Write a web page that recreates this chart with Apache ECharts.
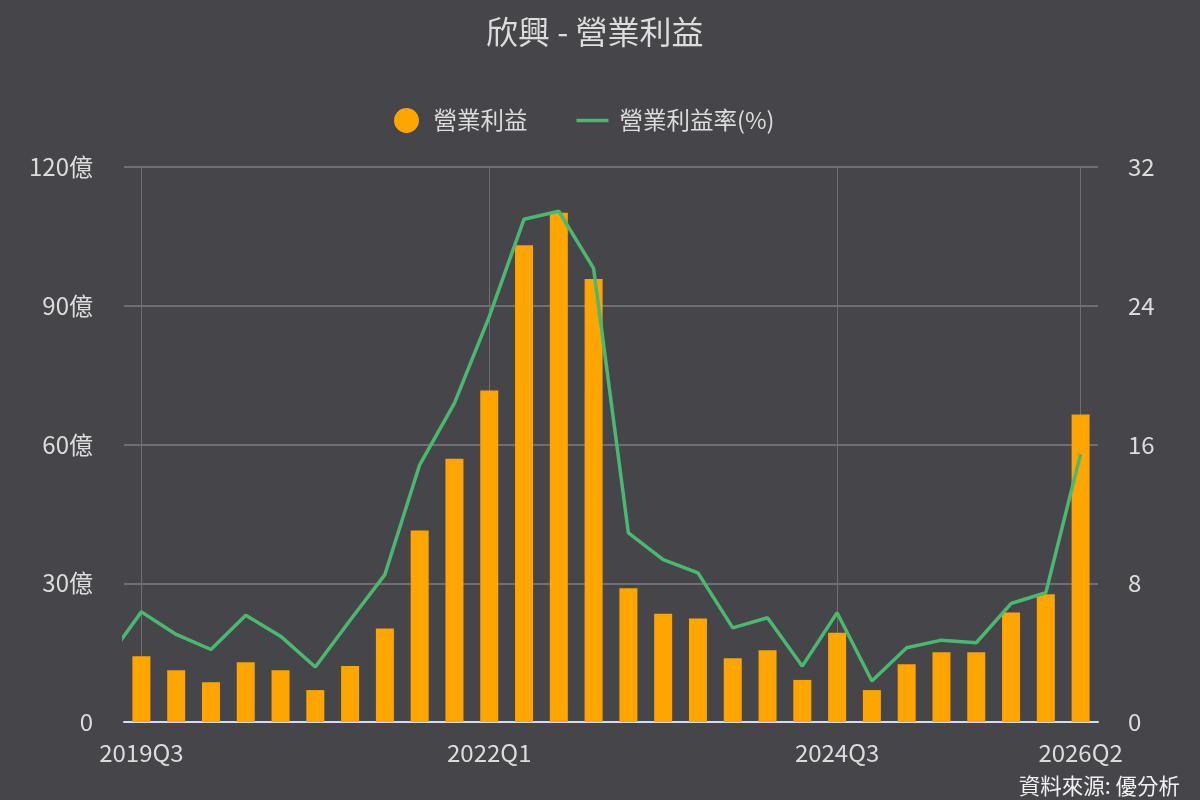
<!DOCTYPE html>
<html>
<head>
<meta charset="utf-8">
<title>欣興 - 營業利益</title>
<script src="https://cdn.jsdelivr.net/npm/echarts@6/dist/echarts.min.js"></script>
<style>
  html, body { margin: 0; padding: 0; background: #464549; }
  #main { width: 1200px; height: 800px; }
</style>
</head>
<body>
<div id="main"></div>
<script>
// 季度 (2019Q2 只用來讓折線從左邊界接進來)
const quarters = [
  '2019Q2', '2019Q3', '2019Q4',
  '2020Q1', '2020Q2', '2020Q3', '2020Q4',
  '2021Q1', '2021Q2', '2021Q3', '2021Q4',
  '2022Q1', '2022Q2', '2022Q3', '2022Q4',
  '2023Q1', '2023Q2', '2023Q3', '2023Q4',
  '2024Q1', '2024Q2', '2024Q3', '2024Q4',
  '2025Q1', '2025Q2', '2025Q3', '2025Q4',
  '2026Q1', '2026Q2'
]
// 營業利益 (億)
const opIncome = [
  null, 14.2, 11.2, 8.6,
  12.9, 11.2, 6.9, 12.1,
  20.2, 41.4, 56.9, 71.7,
  103.1, 110.1, 95.8, 28.9,
  23.4, 22.4, 13.8, 15.5,
  9.1, 19.3, 6.9, 12.5,
  15.1, 15.1, 23.7, 27.6,
  66.5
]
// 營業利益率 (%)
const opMargin = [
  3.56, 6.35, 5.05, 4.18,
  6.16, 4.95, 3.17, 5.87,
  8.5, 14.83, 18.38, 23.37,
  28.99, 29.45, 26.15, 10.9,
  9.36, 8.6, 5.43, 6.01,
  3.22, 6.3, 2.36, 4.28,
  4.72, 4.57, 6.83, 7.45,
  15.46
]
const leftTicks = { min: 0, max: 120, interval: 30 }
const rightTicks = { min: 0, max: 32, interval: 8 }

const textColor = '#dcdcdc'
const gridColor = '#6f6e73'
const cjkFont = '"Noto Sans CJK TC", "Noto Sans", sans-serif'

// 只顯示 2019Q3、2022Q1、2024Q3 與最後一季
const lastIdx = quarters.length - 1
const showIdx = function (idx) {
  return idx === lastIdx || (idx - 1) % 10 === 0
}

const chart = echarts.init(document.getElementById('main'))
const option = {
  backgroundColor: '#464549',
  animation: false,
  title: {
    text: '欣興 - 營業利益',
    left: 481,
    top: 11,
    textStyle: {
      color: textColor,
      fontSize: 32,
      fontWeight: 'normal',
      fontFamily: cjkFont
    }
  },
  legend: {
    top: 103,
    left: 389,
    itemGap: 49,
    itemWidth: 32,
    itemHeight: 25,
    textStyle: {
      color: textColor,
      fontSize: 23.5,
      fontFamily: cjkFont,
      padding: [0, 0, 0, 6]
    },
    data: [
      { name: '營業利益', icon: 'circle' },
      { name: '營業利益率(%)', icon: 'path://M0,0 L32,0 L32,3.5 L0,3.5 Z' }
    ]
  },
  graphic: [
    {
      type: 'text',
      right: 20,
      bottom: 3,
      style: {
        text: '資料來源: 優分析',
        fill: '#f0f0f0',
        fontSize: 21.5,
        fontFamily: cjkFont
      }
    }
  ],
  grid: {
    left: 124,
    right: 102,
    top: 167,
    bottom: 78
  },
  xAxis: {
    type: 'category',
    data: quarters,
    min: 1,
    boundaryGap: true,
    axisLine: {
      lineStyle: { color: '#d4dcf0', width: 2 }
    },
    axisTick: { show: false, alignWithLabel: true, interval: showIdx },
    axisLabel: {
      interval: showIdx,
      color: textColor,
      fontSize: 24,
      margin: 19,
      fontFamily: cjkFont
    },
    splitLine: {
      show: true,
      interval: showIdx,
      alignWithLabel: true,
      lineStyle: { color: gridColor, width: 1 }
    }
  },
  yAxis: [
    {
      type: 'value',
      min: leftTicks.min,
      max: leftTicks.max,
      interval: leftTicks.interval,
      axisLine: { show: false },
      axisTick: { show: false },
      axisLabel: {
        color: textColor,
        fontSize: 24,
        margin: 31,
        fontFamily: cjkFont,
        formatter: function (v) {
          return v === 0 ? '0' : v + '億'
        }
      },
      splitLine: {
        lineStyle: { color: gridColor, width: 2 }
      }
    },
    {
      type: 'value',
      min: rightTicks.min,
      max: rightTicks.max,
      interval: rightTicks.interval,
      axisLine: { show: false },
      axisTick: { show: false },
      axisLabel: {
        color: textColor,
        fontSize: 24,
        margin: 30,
        fontFamily: cjkFont
      },
      splitLine: { show: false }
    }
  ],
  series: [
    {
      name: '營業利益',
      type: 'bar',
      yAxisIndex: 0,
      barWidth: 18,
      itemStyle: { color: '#ffa500' },
      data: opIncome
    },
    {
      name: '營業利益率(%)',
      type: 'line',
      yAxisIndex: 1,
      symbol: 'none',
      clip: true,
      lineStyle: { color: '#4ab970', width: 3.5 },
      itemStyle: { color: '#4ab970' },
      data: opMargin
    }
  ]
}
chart.setOption(option)
</script>
</body>
</html>
